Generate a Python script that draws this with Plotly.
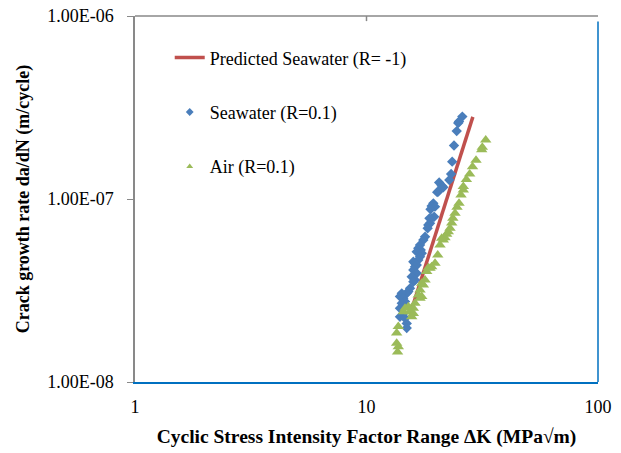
import plotly.graph_objects as go

# Seawater (R=0.1) data
sea_k = [25.94, 25.10, 24.9, 24.53, 23.88, 23.45, 23.2, 22.79, 20.6, 21.13, 21.47,
         20.43, 20.2, 19.44, 19.12, 19.77, 18.9, 19.6, 19.12, 18.7, 18.81, 18.49,
         18.37, 17.90, 17.60, 17.03, 16.74, 17.15, 16.48, 17.32, 17.03, 16.74, 15.93,
         16.20, 16.48, 16.20, 15.93, 16.48, 15.68, 16.20, 15.93, 15.42, 15.16, 14.92,
         14.20, 13.95, 14.42, 14.67, 14.20, 13.95, 14.42, 13.95, 14.67, 14.92, 14.92]
sea_da = [2.82e-7, 2.65e-7, 2.60e-7, 2.35e-7, 1.96e-7, 1.60e-7, 1.37e-7, 1.27e-7, 1.23e-7,
          1.18e-7, 1.16e-7, 1.10e-7, 1.09e-7, 9.47e-8, 9.16e-8, 9.08e-8, 8.79e-8, 8.00e-8,
          7.84e-8, 7.84e-8, 7.37e-8, 7.21e-8, 6.92e-8, 6.22e-8, 5.97e-8, 5.61e-8, 5.38e-8,
          5.27e-8, 5.15e-8, 5.05e-8, 4.84e-8, 4.64e-8, 4.54e-8, 4.45e-8, 4.36e-8, 4.27e-8,
          4.09e-8, 3.93e-8, 3.76e-8, 3.61e-8, 3.53e-8, 3.25e-8, 3.12e-8, 3.05e-8, 3.05e-8,
          2.93e-8, 2.87e-8, 2.75e-8, 2.69e-8, 2.53e-8, 2.37e-8, 2.27e-8, 2.23e-8, 2.09e-8,
          1.97e-8]

# Air (R=0.1) data
air_k = [32.73, 31.64, 31.45, 29.72, 28.7, 27.9, 27.0, 26.19, 26.19, 25.60, 25.10, 24.6,
         24.12, 23.6, 23.34, 22.95, 22.56, 22.20, 21.83, 21.47, 21.13, 20.78, 20.31, 19.77,
         19.12, 18.49, 18.81, 18.20, 17.90, 17.32, 17.60, 17.03, 16.74, 17.32, 17.03, 16.20,
         15.93, 15.16, 14.67, 14.42, 15.42, 15.93, 15.68, 13.72, 13.50, 13.50, 13.72, 13.62]
air_da = [2.10e-7, 1.92e-7, 1.86e-7, 1.63e-7, 1.50e-7, 1.37e-7, 1.28e-7, 1.17e-7, 1.12e-7,
          1.05e-7, 9.47e-8, 9.0e-8, 8.35e-8, 7.84e-8, 7.4e-8, 6.92e-8, 6.63e-8, 6.41e-8,
          6.15e-8, 5.97e-8, 6.10e-8, 5.61e-8, 4.94e-8, 4.45e-8, 4.27e-8, 4.21e-8, 4.18e-8,
          4.01e-8, 3.61e-8, 3.46e-8, 3.39e-8, 3.18e-8, 2.99e-8, 2.93e-8, 2.87e-8, 2.69e-8,
          2.53e-8, 2.58e-8, 2.53e-8, 2.42e-8, 2.42e-8, 2.37e-8, 2.27e-8, 2.01e-8, 1.85e-8,
          1.63e-8, 1.56e-8, 1.46e-8]

# Predicted seawater (R=-1)
pred_k = [15.7, 28.8]
pred_da = [2.51e-8, 2.81e-7]

y_tickvals = [1e-8, 1e-7, 1e-6]
y_ticktext = ["1.00E-08", "1.00E-07", "1.00E-06"]
x_tickvals = [1, 10, 100]
x_ticktext = ["1", "10", "100"]

FONT = "Liberation Serif, Times New Roman, serif"
GRAY = "#898989"
BLUE = "#0070C0"
C_SEA = "#4A7EBB"
C_AIR = "#9BBB59"

fig = go.Figure()
fig.add_trace(go.Scatter(x=pred_k, y=pred_da, mode="lines", name="Predicted Seawater (R= -1)",
                         line=dict(color="#C0504D", width=3.5), legendgroup="a"))
fig.add_trace(go.Scatter(x=sea_k, y=sea_da, mode="markers", name="Seawater (R=0.1)",
                         marker=dict(symbol="diamond", size=8, color=C_SEA),
                         legendgroup="b", showlegend=False))
fig.add_trace(go.Scatter(x=air_k, y=air_da, mode="markers", name="Air (R=0.1)",
                         marker=dict(symbol="triangle-up", size=10, color=C_AIR),
                         legendgroup="c", showlegend=False))
# legend-only entries with the small symbols of the original legend
fig.add_trace(go.Scatter(x=[None], y=[None], mode="markers", name="Seawater (R=0.1)",
                         marker=dict(symbol="diamond", size=6, color=C_SEA), legendgroup="b"))
fig.add_trace(go.Scatter(x=[None], y=[None], mode="markers", name="Air (R=0.1)",
                         marker=dict(symbol="triangle-up", size=6, color=C_AIR), legendgroup="c"))

fig.update_layout(
    width=621, height=453,
    margin=dict(l=135, r=23, t=16, b=71),
    paper_bgcolor="white", plot_bgcolor="white",
    font=dict(family=FONT, size=18, color="black"),
    xaxis=dict(type="log", range=[0, 2], tickvals=x_tickvals, ticktext=x_ticktext,
               showgrid=False, zeroline=False, showline=True, linecolor=BLUE, linewidth=1.5,
               ticks="", ticklabelstandoff=8, automargin=False,
               title=dict(text="<b>Cyclic Stress Intensity Factor Range ΔK (MPa√m)</b>",
                          font=dict(family=FONT, size=19.5), standoff=13)),
    yaxis=dict(type="log", range=[-8, -6], tickvals=y_tickvals, ticktext=y_ticktext,
               showgrid=False, zeroline=False, showline=True, linecolor=GRAY, linewidth=1.5,
               ticks="outside", ticklen=6, tickcolor=GRAY, ticklabelstandoff=10, automargin=False,
               title=dict(text="<b>Crack growth rate da/dN (m/cycle)</b>",
                          font=dict(family=FONT, size=18), standoff=13)),
    legend=dict(x=0.075, y=0.936, xanchor="left", yanchor="top", bgcolor="rgba(0,0,0,0)",
                font=dict(family=FONT, size=18), tracegroupgap=28, traceorder="grouped"),
    shapes=[
        dict(type="line", xref="paper", yref="paper", x0=1, x1=1, y0=0, y1=0.985,
             line=dict(color=BLUE, width=1.5)),
        dict(type="line", xref="paper", yref="paper", x0=0, x1=1, y0=1, y1=1,
             line=dict(color=GRAY, width=1.5)),
        dict(type="line", xref="x", yref="paper", x0=10, x1=10, y0=1, y1=0.986,
             line=dict(color=GRAY, width=1.5)),
    ],
)

fig.write_html("out.html")
